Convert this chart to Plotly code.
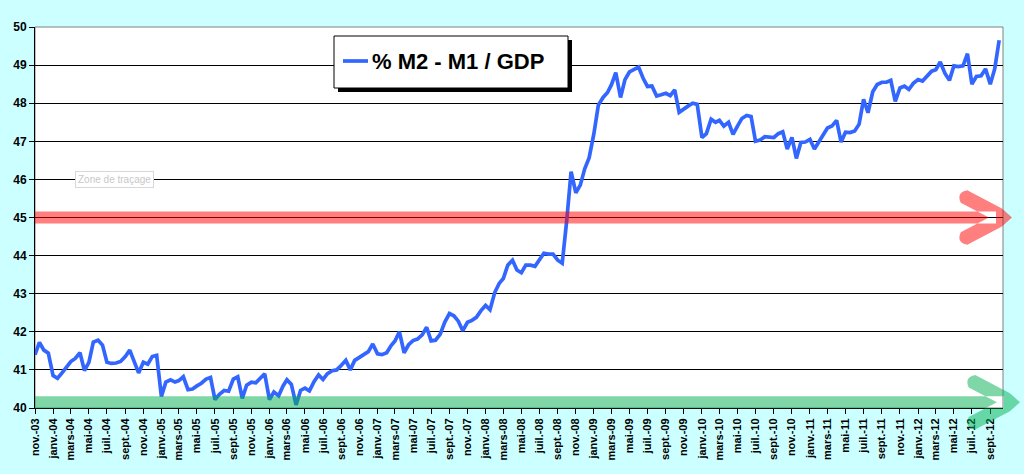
import math
import plotly.graph_objects as go
from datetime import date

# ---------------- data (half-month steps from nov-03) -------------
start_year, start_month = 2003, 11
ratio_values = [
    41.40, 41.72, 41.52, 41.44, 40.85, 40.78, 40.93, 41.09, 41.22, 41.30,
    41.45, 40.98, 41.20, 41.73, 41.78, 41.65, 41.20, 41.17, 41.18, 41.22,
    41.35, 41.52, 41.25, 40.92, 41.20, 41.15, 41.35, 41.38, 40.30, 40.68,
    40.74, 40.68, 40.72, 40.82, 40.48, 40.50, 40.58, 40.65, 40.76, 40.80,
    40.22, 40.36, 40.46, 40.44, 40.76, 40.82, 40.25, 40.60, 40.68, 40.66,
    40.78, 40.90, 40.22, 40.42, 40.32, 40.58, 40.74, 40.62, 40.08, 40.46,
    40.52, 40.45, 40.70, 40.87, 40.75, 40.90, 40.98, 41.00, 41.12, 41.25,
    41.00, 41.25, 41.33, 41.40, 41.48, 41.68, 41.42, 41.40, 41.45, 41.64,
    41.76, 42.00, 41.45, 41.66, 41.77, 41.81, 41.92, 42.12, 41.76, 41.78,
    41.94, 42.25, 42.48, 42.42, 42.28, 42.03, 42.25, 42.30, 42.38, 42.55,
    42.69, 42.58, 43.03, 43.27, 43.40, 43.75, 43.88, 43.62, 43.55, 43.75,
    43.75, 43.72, 43.90, 44.06, 44.04, 44.04, 43.88, 43.80, 44.90, 46.20,
    45.65, 45.85, 46.28, 46.57, 47.20, 47.95, 48.15, 48.28, 48.48, 48.80,
    48.15, 48.62, 48.82, 48.89, 48.95, 48.66, 48.44, 48.45, 48.19, 48.22,
    48.26, 48.20, 48.35, 47.76, 47.86, 47.93, 48.00, 47.97, 47.10, 47.20,
    47.58, 47.50, 47.55, 47.40, 47.50, 47.18, 47.40, 47.60, 47.68, 47.65,
    47.00, 47.03, 47.12, 47.10, 47.10, 47.20, 47.25, 46.80, 47.10, 46.55,
    46.97, 46.98, 47.05, 46.80, 47.00, 47.22, 47.35, 47.40, 47.55, 46.98,
    47.24, 47.23, 47.27, 47.45, 48.10, 47.75, 48.30, 48.49, 48.55, 48.55,
    48.60, 48.05, 48.40, 48.45, 48.36, 48.52, 48.62, 48.58, 48.71, 48.84,
    48.88, 49.08, 48.78, 48.60, 48.98, 48.96, 48.98, 49.30, 48.50, 48.70,
    48.72, 48.90, 48.50, 48.90, 49.65,
]
series_name = "% M2 - M1 / GDP"
red_level = 45.0
green_level = 40.15
y_range = [40, 50]
x_range = ["2003-11-01", "2012-10-14"]
month_abbr = {1: "janv.", 3: "mars", 5: "mai", 7: "juil.", 9: "sept.", 11: "nov."}
tooltip_text = "Zone de traçage"


def half_month_date(i):
    m = start_month - 1 + i // 2
    return date(start_year + m // 12, m % 12 + 1, 1 if i % 2 == 0 else 16)


dates = [half_month_date(i) for i in range(len(ratio_values))]

tick_dates, tick_labels = [], []
y, m = start_year, start_month
while date(y, m, 1) <= date(2012, 9, 1):
    tick_dates.append(date(y, m, 1))
    tick_labels.append(f"{month_abbr[m]}-{str(y)[2:]}")
    m += 2
    if m > 12:
        m -= 12
        y += 1

# ---------------- layout geometry (pixels) ----------------
W, H = 1024, 474
L, R, T, B = 35, 1003, 27, 408
FONT = "Liberation Sans, Arial, sans-serif"
BG = "#ccffff"


def px(xp):
    return (xp - L) / (R - L)


def py(yp):
    return (B - yp) / (B - T)


def level_px(v):
    return B - (v - y_range[0]) / (y_range[1] - y_range[0]) * (B - T)


def arrow_path(cy, tip, x0, half=6, hl=48, hh=21, th=7):
    def P(pt):
        return f"{px(pt[0]):.5f},{py(pt[1]):.5f}"

    shaft = [(x0, cy - half), (tip - 16, cy - half), (tip - 16, cy + half), (x0, cy + half)]
    s = "M" + " L".join(P(p) for p in shaft) + " Z"
    S = (tip - hl, cy - hh)
    E = (tip - 8, cy)
    dx, dy = E[0] - S[0], E[1] - S[1]
    ln = math.hypot(dx, dy)
    dx, dy = dx / ln, dy / ln
    nx, ny = -dy, dx
    in_up = (S[0] + nx * th, S[1] + ny * th)
    out_up = (S[0] - nx * th, S[1] - ny * th)
    c_up = (S[0] - dx * th * 1.3, S[1] - dy * th * 1.3)
    out_mid = (out_up[0] + dx * (ln - 6), out_up[1] + dy * (ln - 6))
    t = (cy - in_up[1]) / dy
    inner_v = (in_up[0] + dx * t, cy)

    def mir(p):
        return (p[0], 2 * cy - p[1])

    h = ("M" + P(in_up) + " Q" + P(c_up) + " " + P(out_up) + " L" + P(out_mid)
         + " L" + P((tip, cy)) + " L" + P(mir(out_mid)) + " L" + P(mir(out_up))
         + " Q" + P(mir(c_up)) + " " + P(mir(in_up)) + " L" + P(inner_v) + " Z")
    return s + " " + h


fig = go.Figure()
fig.add_trace(go.Scatter(
    x=dates, y=ratio_values, mode="lines", name=series_name,
    line=dict(color="#3366ff", width=3.7), showlegend=False,
))

shapes = []
shapes.append(dict(type="rect", xref="paper", yref="paper", x0=0, x1=1, y0=0, y1=1,
                   line=dict(color="#808080", width=1), layer="below"))
shapes.append(dict(type="path", xref="paper", yref="paper",
                   path=arrow_path(level_px(red_level), 1012, L),
                   fillcolor="rgba(255,0,0,0.5)", line=dict(width=0), layer="above"))
shapes.append(dict(type="path", xref="paper", yref="paper",
                   path=arrow_path(level_px(green_level), 1020, L),
                   fillcolor="rgba(0,176,80,0.5)", line=dict(width=0), layer="above"))
shapes.append(dict(type="rect", xref="paper", yref="paper",
                   x0=px(338), x1=px(572), y0=py(92), y1=py(40),
                   fillcolor="black", line=dict(width=0), layer="above"))
shapes.append(dict(type="rect", xref="paper", yref="paper",
                   x0=px(334), x1=px(568), y0=py(88), y1=py(36),
                   fillcolor="white", line=dict(color="black", width=1), layer="above"))
shapes.append(dict(type="line", xref="paper", yref="paper",
                   x0=px(343), x1=px(368), y0=py(61), y1=py(61),
                   line=dict(color="#3366ff", width=3.7), layer="above"))

annotations = [
    dict(xref="paper", yref="paper", x=px(370), y=py(62), xanchor="left", yanchor="middle",
         text=f"<b>{series_name}</b>", showarrow=False,
         font=dict(family=FONT, size=22, color="black")),
    dict(xref="paper", yref="paper", x=px(114), y=py(180), xanchor="center", yanchor="middle",
         text=tooltip_text, showarrow=False, bgcolor="white", bordercolor="#d8d8d8",
         borderwidth=1, borderpad=2, font=dict(family=FONT, size=10, color="#c8c8c8")),
]

fig.update_layout(
    width=W, height=H,
    margin=dict(l=L, r=W - R, t=T, b=H - B, pad=0),
    paper_bgcolor=BG, plot_bgcolor="white",
    shapes=shapes, annotations=annotations, showlegend=False,
    font=dict(family=FONT, color="black"),
)
fig.update_xaxes(
    type="date", range=x_range, tickmode="array", tickvals=tick_dates,
    ticktext=[f"<b>{t}</b>" for t in tick_labels], tickangle=-90,
    tickfont=dict(family=FONT, size=11, color="black"),
    showgrid=False, showline=True, linecolor="black", linewidth=1,
    ticks="outside", ticklen=5, tickcolor="black", zeroline=False,
)
fig.update_yaxes(
    range=y_range, dtick=1, tick0=40,
    tickfont=dict(family=FONT, size=12, color="black"), tickformat="d",
    showgrid=True, gridcolor="black", gridwidth=1,
    showline=True, linecolor="black", linewidth=1,
    ticks="outside", ticklen=5, tickcolor="black", zeroline=False,
    tickprefix="<b>", ticksuffix="</b>",
)

fig.write_html(
    "out.html",
    config={"displayModeBar": False},
    post_script=f"document.body.style.margin='0';document.body.style.background='{BG}';",
)
